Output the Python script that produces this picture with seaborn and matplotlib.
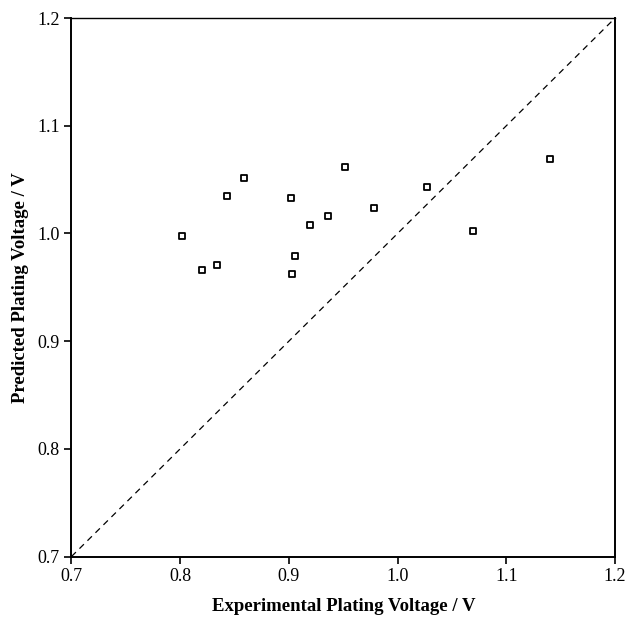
import matplotlib
matplotlib.use("Agg")
import matplotlib.pyplot as plt
import seaborn as sns
import pandas as pd

experimental = [0.802, 0.820, 0.834, 0.843, 0.859, 0.902, 0.906, 0.903,
                0.919, 0.936, 0.952, 0.978, 1.027, 1.069, 1.140]
predicted = [0.998, 0.966, 0.971, 1.035, 1.051, 1.033, 0.979, 0.962,
             1.008, 1.016, 1.062, 1.024, 1.043, 1.002, 1.069]
diag = [0.7, 1.2]
ticks = [0.7, 0.8, 0.9, 1.0, 1.1, 1.2]

sns.set_theme(style="ticks")
plt.rcParams['font.family'] = ['Liberation Serif', 'DejaVu Serif']
plt.rcParams['text.color'] = 'black'
plt.rcParams['axes.labelcolor'] = 'black'

df = pd.DataFrame({"exp": experimental, "pred": predicted})
dd = pd.DataFrame({"x": diag, "y": diag})

fig = plt.figure(figsize=(6.27, 6.23), dpi=100)
ax = fig.add_axes([0.114, 0.1067, 0.867, 0.8644])

sns.lineplot(data=dd, x="x", y="y", ax=ax, color="black", lw=0.9,
             linestyle=(0, (5, 4)))
sns.scatterplot(data=df, x="exp", y="pred", ax=ax, marker="s", s=18,
                facecolor="white", edgecolor="black", linewidth=1.3, zorder=3)

ax.set_xlim(0.7, 1.2)
ax.set_ylim(0.7, 1.2)
ax.set_xticks(ticks)
ax.set_yticks(ticks)
ax.set_xticklabels([f"{t:.1f}" for t in ticks])
ax.set_yticklabels([f"{t:.1f}" for t in ticks])
ax.tick_params(direction="out", length=5, width=1.2, labelsize=13, colors="black")
for s in ["left", "bottom", "right", "top"]:
    ax.spines[s].set_visible(True)
    ax.spines[s].set_color("black")
    ax.spines[s].set_linewidth(1.4)
ax.spines["top"].set_linewidth(1.0)

ax.set_xlabel("Experimental Plating Voltage / V", fontsize=13.5, fontweight="bold",
              labelpad=9, color="black")
ax.set_ylabel("Predicted Plating Voltage / V", fontsize=13.5, fontweight="bold",
              labelpad=6, color="black")

fig.savefig("out.png", dpi=100)
